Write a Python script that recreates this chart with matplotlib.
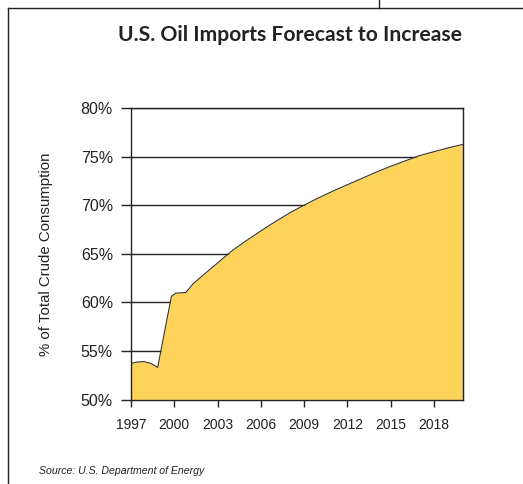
import matplotlib
matplotlib.use("Agg")
import matplotlib.pyplot as plt
from matplotlib.lines import Line2D

years = [1997, 1997.4, 1997.9, 1998.4, 1998.85, 1999.8, 2000.1, 2000.8,
         2001.3, 2002, 2003, 2004, 2005, 2006, 2007, 2008, 2009, 2010,
         2011, 2012, 2013, 2014, 2015, 2016, 2017, 2018, 2019, 2020]
share = [53.7, 53.85, 53.9, 53.7, 53.3, 60.6, 60.95, 61.0,
         61.9, 62.8, 64.05, 65.3, 66.35, 67.35, 68.3, 69.2, 70.0, 70.75,
         71.45, 72.1, 72.75, 73.4, 74.0, 74.55, 75.1, 75.5, 75.9, 76.25]
xticks = [1997, 2000, 2003, 2006, 2009, 2012, 2015, 2018]
yticks = [50, 55, 60, 65, 70, 75, 80]
ytick_labels = ["50%", "55%", "60%", "65%", "70%", "75%", "80%"]

W, H = 523, 484
fig = plt.figure(figsize=(W / 100, H / 100), dpi=100)
ax = fig.add_axes([131 / W, 1 - 399.5 / H, (462.7 - 131) / W, (399.5 - 108) / H])

for y in yticks:
    ax.axhline(y, color="#222222", lw=1.0, zorder=1)
ax.fill_between(years, 50, share, color="#FDD35A", zorder=2, lw=0)
ax.plot(years, share, color="#333333", lw=0.8, zorder=3)

ax.set_xlim(1997, 2020)
ax.set_ylim(50, 80)
ax.set_xticks(xticks)
ax.set_xticklabels([str(x) for x in xticks])
ax.set_yticks(yticks)
ax.set_yticklabels(ytick_labels)
for side in ["left", "right", "top", "bottom"]:
    ax.spines[side].set_color("#222222")
    ax.spines[side].set_linewidth(1.0)
    ax.spines[side].set_zorder(4)
ax.tick_params(axis="y", length=7, width=1, color="#222222", pad=6,
               labelsize=11.5, labelcolor="#222222")
ax.tick_params(axis="x", length=5, width=1, color="#222222", pad=8,
               labelsize=10, labelcolor="#222222")
for lab in ax.get_xticklabels() + ax.get_yticklabels():
    lab.set_family("Liberation Sans")

ax.set_ylabel("% of Total Crude Consumption", family="Liberation Sans",
              fontsize=10.8, color="#222222", labelpad=20)

fig.text(290 / W, 1 - 35 / H, "U.S. Oil Imports Forecast to Increase",
         ha="center", va="center", fontsize=15.2, fontweight="bold",
         family="Lato", color="#222222")
fig.text(39 / W, 1 - 471 / H, "Source: U.S. Department of Energy",
         ha="left", va="center", fontsize=7.6, style="italic",
         family="Liberation Sans", color="#222222")

# outer frame lines
fig.add_artist(Line2D([7.5 / W, 7.5 / W], [0, 1 - 8 / H], color="#222222", lw=1.0))
fig.add_artist(Line2D([7.5 / W, 1], [1 - 8 / H, 1 - 8 / H], color="#222222", lw=1.0))
fig.add_artist(Line2D([378.5 / W, 378.5 / W], [1 - 8 / H, 1], color="#222222", lw=1.0))

fig.savefig("out.png", dpi=100)
